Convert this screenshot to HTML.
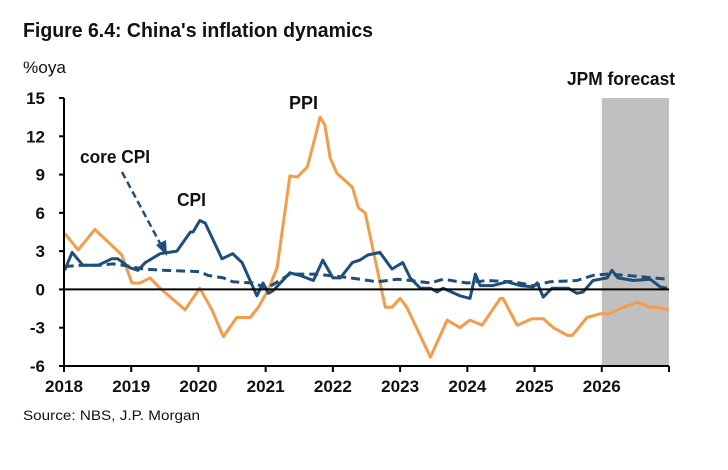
<!DOCTYPE html>
<html><head><meta charset="utf-8"><style>
html,body{margin:0;padding:0;background:#fff;}
svg{display:block;font-family:"Liberation Sans",Arial,sans-serif;}
</style></head><body>
<svg id="chart" width="728" height="470" viewBox="0 0 728 470">
<text x="23" y="37" font-size="20" font-weight="bold" fill="#111" textLength="350" lengthAdjust="spacingAndGlyphs">Figure 6.4: China's inflation dynamics</text>
<text x="23" y="73" font-size="17" fill="#111" textLength="43" lengthAdjust="spacingAndGlyphs">%oya</text>
<g id="plot"></g>
<text x="23" y="420" font-size="14" fill="#111" textLength="177" lengthAdjust="spacingAndGlyphs">Source: NBS, J.P. Morgan</text>
</svg>
<script>
const yearTicks=[2018,2019,2020,2021,2022,2023,2024,2025,2026];
const yTicks=[15,12,9,6,3,0,-3,-6];
const forecastStart=2026, forecastEnd=2027;
const ppiDates=[2018.01,2018.21,2018.46,2018.68,2018.86,2019.01,2019.13,2019.28,2019.43,2019.80,2020.02,2020.20,2020.37,2020.57,2020.77,2020.89,2021.04,2021.17,2021.36,2021.47,2021.62,2021.71,2021.81,2021.88,2021.96,2022.06,2022.29,2022.38,2022.48,2022.78,2022.88,2023.00,2023.10,2023.45,2023.70,2023.89,2024.04,2024.22,2024.49,2024.53,2024.74,2024.96,2025.13,2025.28,2025.49,2025.56,2025.78,2025.98,2026.10,2026.32,2026.53,2026.72,2026.84,2026.99];
const ppiValues=[4.4,3.1,4.7,3.6,2.7,0.5,0.5,0.9,0.1,-1.6,0.1,-1.6,-3.7,-2.2,-2.2,-1.4,0,1.7,8.9,8.8,9.6,11.4,13.5,12.9,10.3,9.1,8.0,6.4,6.0,-1.4,-1.4,-0.7,-1.4,-5.3,-2.4,-3.0,-2.4,-2.8,-0.7,-0.7,-2.8,-2.3,-2.3,-3.0,-3.6,-3.6,-2.2,-1.9,-1.9,-1.4,-1.0,-1.4,-1.4,-1.6];
const cpiDates=[2018.01,2018.12,2018.28,2018.51,2018.71,2018.80,2018.98,2019.10,2019.21,2019.43,2019.68,2019.88,2019.92,2020.02,2020.10,2020.35,2020.51,2020.65,2020.87,2020.96,2021.04,2021.11,2021.36,2021.51,2021.71,2021.85,2022.00,2022.11,2022.29,2022.40,2022.52,2022.70,2022.88,2023.04,2023.15,2023.30,2023.45,2023.55,2023.64,2023.89,2024.04,2024.12,2024.19,2024.38,2024.59,2024.79,2024.98,2025.04,2025.13,2025.26,2025.50,2025.63,2025.72,2025.87,2026.08,2026.15,2026.24,2026.47,2026.72,2026.87,2026.97];
const cpiValues=[1.5,2.9,1.9,1.9,2.4,2.4,1.7,1.5,2.1,2.8,3.0,4.5,4.5,5.4,5.2,2.4,2.8,2.1,-0.5,0.5,-0.3,-0.1,1.3,1.1,0.7,2.3,0.9,0.9,2.1,2.3,2.7,2.9,1.6,2.1,0.9,0.1,0.1,-0.2,0.1,-0.5,-0.7,1.2,0.3,0.3,0.6,0.3,0.2,0.5,-0.6,0.1,0.1,-0.3,-0.2,0.7,0.9,1.5,0.9,0.7,0.8,0.2,0.1];
const coreDates=[2018.01,2018.28,2018.54,2018.73,2018.88,2019.18,2019.47,2020.02,2020.14,2020.37,2020.51,2020.81,2021.02,2021.36,2021.76,2022.26,2022.66,2022.96,2023.15,2023.45,2023.64,2024.00,2024.29,2024.68,2024.98,2025.23,2025.63,2025.87,2026.08,2026.38,2026.77,2026.99];
const coreValues=[1.8,1.9,1.9,2.0,1.9,1.6,1.5,1.4,1.1,0.9,0.6,0.5,0.1,1.2,1.2,0.9,0.6,0.8,0.7,0.5,0.8,0.5,0.7,0.6,0.3,0.6,0.7,1.1,1.2,1.1,0.9,0.8];

const X0=64,X1=669,Y0=98,Y1=366;
function xs(t){return X0+(t-2018)/(2027-2018)*(X1-X0);}
function ys(v){return Y1-(v-(-6))/(15-(-6))*(Y1-Y0);}
const NS="http://www.w3.org/2000/svg";
const g=document.getElementById('plot');
function mk(tag,attrs){const e=document.createElementNS(NS,tag);for(const k in attrs)e.setAttribute(k,attrs[k]);g.appendChild(e);return e;}

const shade=mk('rect',{x:xs(forecastStart),y:Y0,width:xs(forecastEnd)-xs(forecastStart),height:Y1-Y0,fill:'#c0c0c0'});


const fl=mk('text',{x:621,y:85,'font-size':18,'font-weight':'bold','text-anchor':'middle',fill:'#111',textLength:108,lengthAdjust:'spacingAndGlyphs'});
fl.textContent='JPM forecast';



function line(dates,vals,color,name,dash){
  let d='';dates.forEach((t,i)=>{d+=(i?'L':'M')+xs(t).toFixed(1)+','+ys(vals[i]).toFixed(1);});
  const p=mk('path',{d:d,fill:'none',stroke:color,'stroke-width':3,'stroke-linejoin':'round'});
  if(dash)p.setAttribute('stroke-dasharray',dash);
  
  
}
line(ppiDates,ppiValues,'#f39c4a','ppi-line');
line(coreDates,coreValues,'#1f4e79','core-cpi-line','9 5');
line(cpiDates,cpiValues,'#1f4e79','cpi-line');

const zl=mk('line',{x1:X0,x2:X1,y1:ys(0),y2:ys(0),stroke:'#000','stroke-width':2});


const ya=mk('line',{x1:X0,x2:X0,y1:Y0,y2:Y1,stroke:'#000','stroke-width':2});


const xa=mk('line',{x1:X0,x2:X1,y1:Y1,y2:Y1,stroke:'#000','stroke-width':2});



yTicks.forEach(v=>{
  mk('line',{x1:X0-5,x2:X0,y1:ys(v),y2:ys(v),stroke:'#000','stroke-width':2});
  const t=mk('text',{x:45,y:ys(v)+6,'font-size':17,'font-weight':'bold','text-anchor':'end',fill:'#111'});
  t.textContent=String(v);
  
  
});
yearTicks.concat([2027]).forEach(y=>{
  mk('line',{x1:xs(y),x2:xs(y),y1:Y1,y2:Y1+6,stroke:'#000','stroke-width':2});
});
yearTicks.forEach(y=>{
  const t=mk('text',{x:xs(y),y:392,'font-size':17,'font-weight':'bold','text-anchor':'middle',fill:'#111',textLength:38,lengthAdjust:'spacingAndGlyphs'});
  t.textContent=String(y);
  
  
});

function lab(txt,x,y,w,name){
  const t=mk('text',{x:x,y:y,'font-size':18,'font-weight':'bold',fill:'#111',textLength:w,lengthAdjust:'spacingAndGlyphs'});
  t.textContent=txt;
  
  
}
lab('core CPI',80,163,70,'core-cpi-label');
lab('CPI',177,206,29,'cpi-label');
lab('PPI',289,109,29,'ppi-label');

const ar=mk('line',{x1:122,y1:172,x2:162,y2:247,stroke:'#1f4e79','stroke-width':2.5,'stroke-dasharray':'7 4'});


const ah=mk('polygon',{points:'167,256 156,245 166,240',fill:'#1f4e79'});


</script>
</body></html>
